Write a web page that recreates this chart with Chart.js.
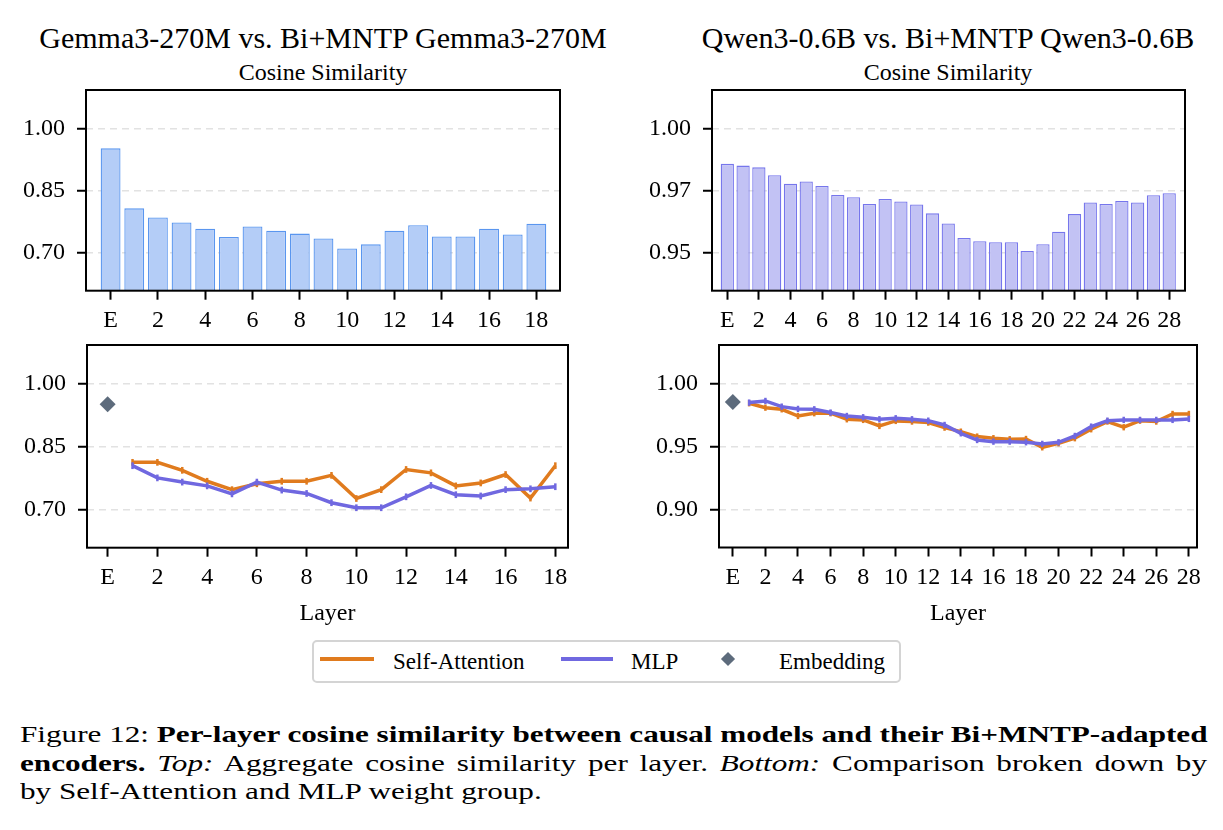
<!DOCTYPE html>
<html lang="en">
<head>
<meta charset="utf-8">
<title>Figure 12</title>
<script src="https://cdn.jsdelivr.net/npm/chart.js@4.4.1/dist/chart.umd.min.js"></script>
<style>
    html, body { margin: 0; padding: 0; background: #fff; }
    body { position: relative; width: 1223px; height: 830px; overflow: hidden;
           font-family: 'Liberation Serif', 'Times New Roman', serif; color: #000; }
    canvas { position: absolute; }
    .title, .subtitle { position: absolute; width: 640px; text-align: center; white-space: nowrap; }
    .title { font-size: 30px; line-height: 30px; top: 23px; }
    .subtitle { font-size: 24px; line-height: 24px; top: 60px; }
    #legend { position: absolute; left: 312px; top: 640px; width: 585px; height: 39px;
              border: 2px solid #d4d4d4; border-radius: 5px; }
    .legend-line { position: absolute; top: 15px; height: 4px; }
    .legend-text { position: absolute; top: 8px; font-size: 23px; line-height: 23px; white-space: nowrap; }
    .legend-diamond { position: absolute; left: 409px; top: 12px; width: 10px; height: 10px;
                      background: #5d6b7c; transform: rotate(45deg); }
    #caption { position: absolute; left: 20px; top: 721px; font-size: 23px; line-height: 28.5px;
               transform-origin: left top; }
    .cap-line { white-space: nowrap; }
    .justify { text-align-last: justify; }
</style>
</head>
<body>
<div class="title" style="left: 3px;">Gemma3-270M vs. Bi+MNTP Gemma3-270M</div>
<div class="subtitle" style="left: 3px;">Cosine Similarity</div>
<div class="title" style="left: 628px;">Qwen3-0.6B vs. Bi+MNTP Qwen3-0.6B</div>
<div class="subtitle" style="left: 628px;">Cosine Similarity</div>

<canvas id="gemma-bars"></canvas>
<canvas id="qwen-bars"></canvas>
<canvas id="gemma-lines"></canvas>
<canvas id="qwen-lines"></canvas>

<div id="legend">
    <div class="legend-line" style="left: 6px; width: 54px; background: #e07b1e;"></div>
    <div class="legend-text" style="left: 79px;">Self-Attention</div>
    <div class="legend-line" style="left: 247px; width: 52px; background: #7068e0;"></div>
    <div class="legend-text" style="left: 317px;">MLP</div>
    <div class="legend-diamond"></div>
    <div class="legend-text" style="left: 465px;">Embedding</div>
</div>

<div id="caption">
    <div class="cap-line justify"><span id="cap-first">Figure 12: <b>Per-layer cosine similarity between causal models and their Bi+MNTP-adapted</b></span></div>
    <div class="cap-line justify"><span><b>encoders.</b> <i>Top:</i> Aggregate cosine similarity per layer. <i>Bottom:</i> Comparison broken down by</span></div>
    <div class="cap-line"><span>by Self-Attention and MLP weight group.</span></div>
</div>

<script>
// Подписи слоёв (E = эмбеддинги)
const gemmaLayers = ['E', '1', '2', '3', '4', '5', '6', '7', '8', '9', '10',
    '11', '12', '13', '14', '15', '16', '17', '18'];
const qwenLayers = ['E', '1', '2', '3', '4', '5', '6', '7', '8', '9', '10',
    '11', '12', '13', '14', '15', '16', '17', '18', '19', '20',
    '21', '22', '23', '24', '25', '26', '27', '28'];

// Верхний ряд: общая косинусная близость по слоям (E, 1..N)
const gemmaCosine = [0.952, 0.807, 0.785, 0.773, 0.758, 0.738, 0.763, 0.753, 0.746, 0.734,
    0.710, 0.720, 0.753, 0.766, 0.739, 0.739, 0.758, 0.744, 0.770];
const qwenCosine = [0.9857, 0.9850, 0.9843, 0.9811, 0.9777, 0.9786, 0.9768, 0.9732, 0.9723, 0.9696,
    0.9716, 0.9706, 0.9694, 0.9658, 0.9617, 0.9559, 0.9546, 0.9542, 0.9542, 0.9507,
    0.9534, 0.9584, 0.9655, 0.9702, 0.9696, 0.9708, 0.9702, 0.9731, 0.9739];

// Нижний ряд: Self-Attention и MLP по слоям 1..N
const gemmaAttn = [0.812, 0.812, 0.793, 0.767, 0.747, 0.761, 0.767, 0.767, 0.781,
    0.726, 0.747, 0.795, 0.787, 0.756, 0.763, 0.783, 0.727, 0.804];
const gemmaMlp = [0.804, 0.775, 0.765, 0.756, 0.737, 0.765, 0.746, 0.738, 0.716,
    0.704, 0.704, 0.730, 0.757, 0.735, 0.732, 0.747, 0.749, 0.754];
const gemmaEmbedding = 0.950;
const gemmaErr = 0.008;

const qwenAttn = [0.9842, 0.9807, 0.9794, 0.9741, 0.9763, 0.9763, 0.9715, 0.9710, 0.9662, 0.9702,
    0.9697, 0.9689, 0.9649, 0.9617, 0.9578, 0.9565, 0.9557, 0.9559, 0.9493, 0.9525,
    0.9565, 0.9636, 0.9697, 0.9652, 0.9704, 0.9697, 0.9757, 0.9757];
const qwenMlp = [0.9847, 0.9860, 0.9815, 0.9797, 0.9794, 0.9768, 0.9741, 0.9731, 0.9715, 0.9723,
    0.9715, 0.9704, 0.9670, 0.9604, 0.9551, 0.9538, 0.9538, 0.9533, 0.9520, 0.9533,
    0.9583, 0.9657, 0.9704, 0.9710, 0.9710, 0.9710, 0.9710, 0.9718];
const qwenEmbedding = 0.9852;
const qwenErr = 0.0025;

// Деления оси Y (0.975 в оригинале подписано как 0.97)
const gemmaTicks = [0.70, 0.85, 1.00];
const gemmaTickLabels = ['0.70', '0.85', '1.00'];
const qwenBarTicks = [0.95, 0.975, 1.00];
const qwenBarTickLabels = ['0.95', '0.97', '1.00'];
const qwenLineTicks = [0.90, 0.95, 1.00];
const qwenLineTickLabels = ['0.90', '0.95', '1.00'];

const ATTN_COLOR = '#e07b1e';
const MLP_COLOR = '#7068e0';
const EMB_COLOR = '#5d6b7c';

Chart.defaults.font.family = "'Liberation Serif', 'Times New Roman', serif";
Chart.defaults.color = '#000';

// Чёрная рамка вокруг области графика
const framePlugin = {
    id: 'frame',
    afterDatasetsDraw(chart) {
        const { ctx, chartArea: a } = chart;
        ctx.save();
        ctx.strokeStyle = '#000';
        ctx.lineWidth = 2;
        ctx.strokeRect(a.left, a.top, a.right - a.left, a.bottom - a.top);
        ctx.restore();
    }
};

// Вертикальные планки погрешностей
const errorBarPlugin = {
    id: 'errorBars',
    afterDatasetDraw(chart, args) {
        const ds = chart.data.datasets[args.index];
        if (!ds.err) return;
        const { ctx, scales: { x, y } } = chart;
        ctx.save();
        ctx.strokeStyle = ds.borderColor;
        ctx.lineWidth = 2.5;
        ds.data.forEach(p => {
            const px = x.getPixelForValue(p.x);
            ctx.beginPath();
            ctx.moveTo(px, y.getPixelForValue(p.y - ds.err));
            ctx.lineTo(px, y.getPixelForValue(p.y + ds.err));
            ctx.stroke();
        });
        ctx.restore();
    }
};

function setupCanvas(id, box) {
    const canvas = document.getElementById(id);
    canvas.width = box.width;
    canvas.height = box.height;
    canvas.style.left = box.left + 'px';
    canvas.style.top = box.top + 'px';
    canvas.style.width = box.width + 'px';
    canvas.style.height = box.height + 'px';
    return canvas.getContext('2d');
}

// Общие настройки осей и раскладки для одной панели
function panelOptions(panel) {
    const { box, frame, layers } = panel;
    return {
        responsive: false,
        animation: false,
        events: [],
        layout: {
            padding: { left: 0, bottom: 0, top: frame.top - box.top, right: box.left + box.width - frame.right }
        },
        plugins: { legend: { display: false }, tooltip: { enabled: false } },
        scales: {
            x: {
                type: 'linear',
                min: panel.xMin,
                max: panel.xMax,
                offset: false,
                afterBuildTicks: axis => {
                    axis.ticks = layers.map((l, i) => i).filter(i => i % 2 === 0).map(v => ({ value: v }));
                },
                afterFit: axis => {
                    axis.height = box.top + box.height - frame.bottom;
                    axis.paddingLeft = 0;
                    axis.paddingRight = 0;
                },
                ticks: { callback: v => layers[v], autoSkip: false, maxRotation: 0, minRotation: 0,
                         padding: 7, font: { size: 24 }, color: '#000' },
                grid: { offset: false, drawOnChartArea: false, tickColor: '#000', tickLength: 9, tickWidth: 2 },
                border: { display: false },
                title: panel.xTitle
                    ? { display: true, text: panel.xTitle, font: { size: 24 }, color: '#000', padding: { top: 0, bottom: 12 } }
                    : { display: false }
            },
            y: {
                type: 'linear',
                min: panel.yMin,
                max: panel.yMax,
                afterBuildTicks: axis => { axis.ticks = panel.yTicks.map(v => ({ value: v })); },
                afterFit: axis => {
                    axis.width = frame.left - box.left;
                    axis.paddingTop = 0;
                    axis.paddingBottom = 0;
                },
                ticks: { callback: v => panel.yLabels[panel.yTicks.indexOf(v)], padding: 12,
                         font: { size: 24 }, color: '#000' },
                grid: { color: '#e2e2e2', lineWidth: 1.5, tickColor: '#000', tickLength: 9, tickWidth: 2 },
                border: { display: false, dash: [7, 5] }
            }
        }
    };
}

// Столбчатая панель
function drawBars(id, panel, values, fill, edge) {
    const ctx = setupCanvas(id, panel.box);
    return new Chart(ctx, {
        type: 'bar',
        data: {
            datasets: [{
                data: values.map((v, i) => ({ x: i, y: v })),
                backgroundColor: fill,
                borderColor: edge,
                borderWidth: 1.3,
                barPercentage: 0.84,
                categoryPercentage: 1
            }]
        },
        options: panelOptions(panel),
        plugins: [framePlugin]
    });
}

// Линейная панель: Self-Attention, MLP и точка эмбеддингов
function drawLines(id, panel, attn, mlp, emb, err) {
    const ctx = setupCanvas(id, panel.box);
    const lineStyle = { borderWidth: 3.5, pointRadius: 0, tension: 0, fill: false, err };
    return new Chart(ctx, {
        type: 'line',
        data: {
            datasets: [
                { label: 'MLP', data: mlp.map((v, i) => ({ x: i + 1, y: v })), borderColor: MLP_COLOR, order: 1, ...lineStyle },
                { label: 'Self-Attention', data: attn.map((v, i) => ({ x: i + 1, y: v })), borderColor: ATTN_COLOR, order: 2, ...lineStyle },
                { label: 'Embedding', data: [{ x: 0, y: emb }], showLine: false, pointStyle: 'rectRot',
                  pointRadius: 8, backgroundColor: EMB_COLOR, borderColor: EMB_COLOR, borderWidth: 0, order: 0 }
            ]
        },
        options: panelOptions(panel),
        plugins: [framePlugin, errorBarPlugin]
    });
}

drawBars('gemma-bars', {
    box: { left: 0, top: 85, width: 600, height: 255 },
    frame: { left: 86, top: 90, right: 560, bottom: 290.7 },
    layers: gemmaLayers, xMin: -1.04, xMax: 19.0,
    yMin: 0.608, yMax: 1.093, yTicks: gemmaTicks, yLabels: gemmaTickLabels
}, gemmaCosine, '#b4cdf7', '#5a96ef');

drawBars('qwen-bars', {
    box: { left: 620, top: 85, width: 603, height: 255 },
    frame: { left: 712, top: 90, right: 1185, bottom: 290.7 },
    layers: qwenLayers, xMin: -0.97, xMax: 29.0,
    yMin: 0.9347, yMax: 1.0154, yTicks: qwenBarTicks, yLabels: qwenBarTickLabels
}, qwenCosine, '#c2c2f4', '#7676ec');

drawLines('gemma-lines', {
    box: { left: 0, top: 335, width: 610, height: 305 },
    frame: { left: 87, top: 345, right: 568, bottom: 547.7 },
    layers: gemmaLayers, xMin: -0.83, xMax: 18.51, xTitle: 'Layer',
    yMin: 0.609, yMax: 1.091, yTicks: gemmaTicks, yLabels: gemmaTickLabels
}, gemmaAttn, gemmaMlp, gemmaEmbedding, gemmaErr);

drawLines('qwen-lines', {
    box: { left: 620, top: 335, width: 603, height: 305 },
    frame: { left: 719, top: 345, right: 1197, bottom: 547.5 },
    layers: qwenLayers, xMin: -0.85, xMax: 28.5, xTitle: 'Layer',
    yMin: 0.870, yMax: 1.0303, yTicks: qwenLineTicks, yLabels: qwenLineTickLabels
}, qwenAttn, qwenMlp, qwenEmbedding, qwenErr);

// Подгоняем ширину подписи под исходную (20..1207 px)
const caption = document.getElementById('caption');
const firstLineWidth = document.getElementById('cap-first').offsetWidth;
const captionScale = 1187 / firstLineWidth;
caption.style.width = firstLineWidth + 'px';
caption.style.transform = 'scaleX(' + captionScale + ')';
</script>
</body>
</html>
